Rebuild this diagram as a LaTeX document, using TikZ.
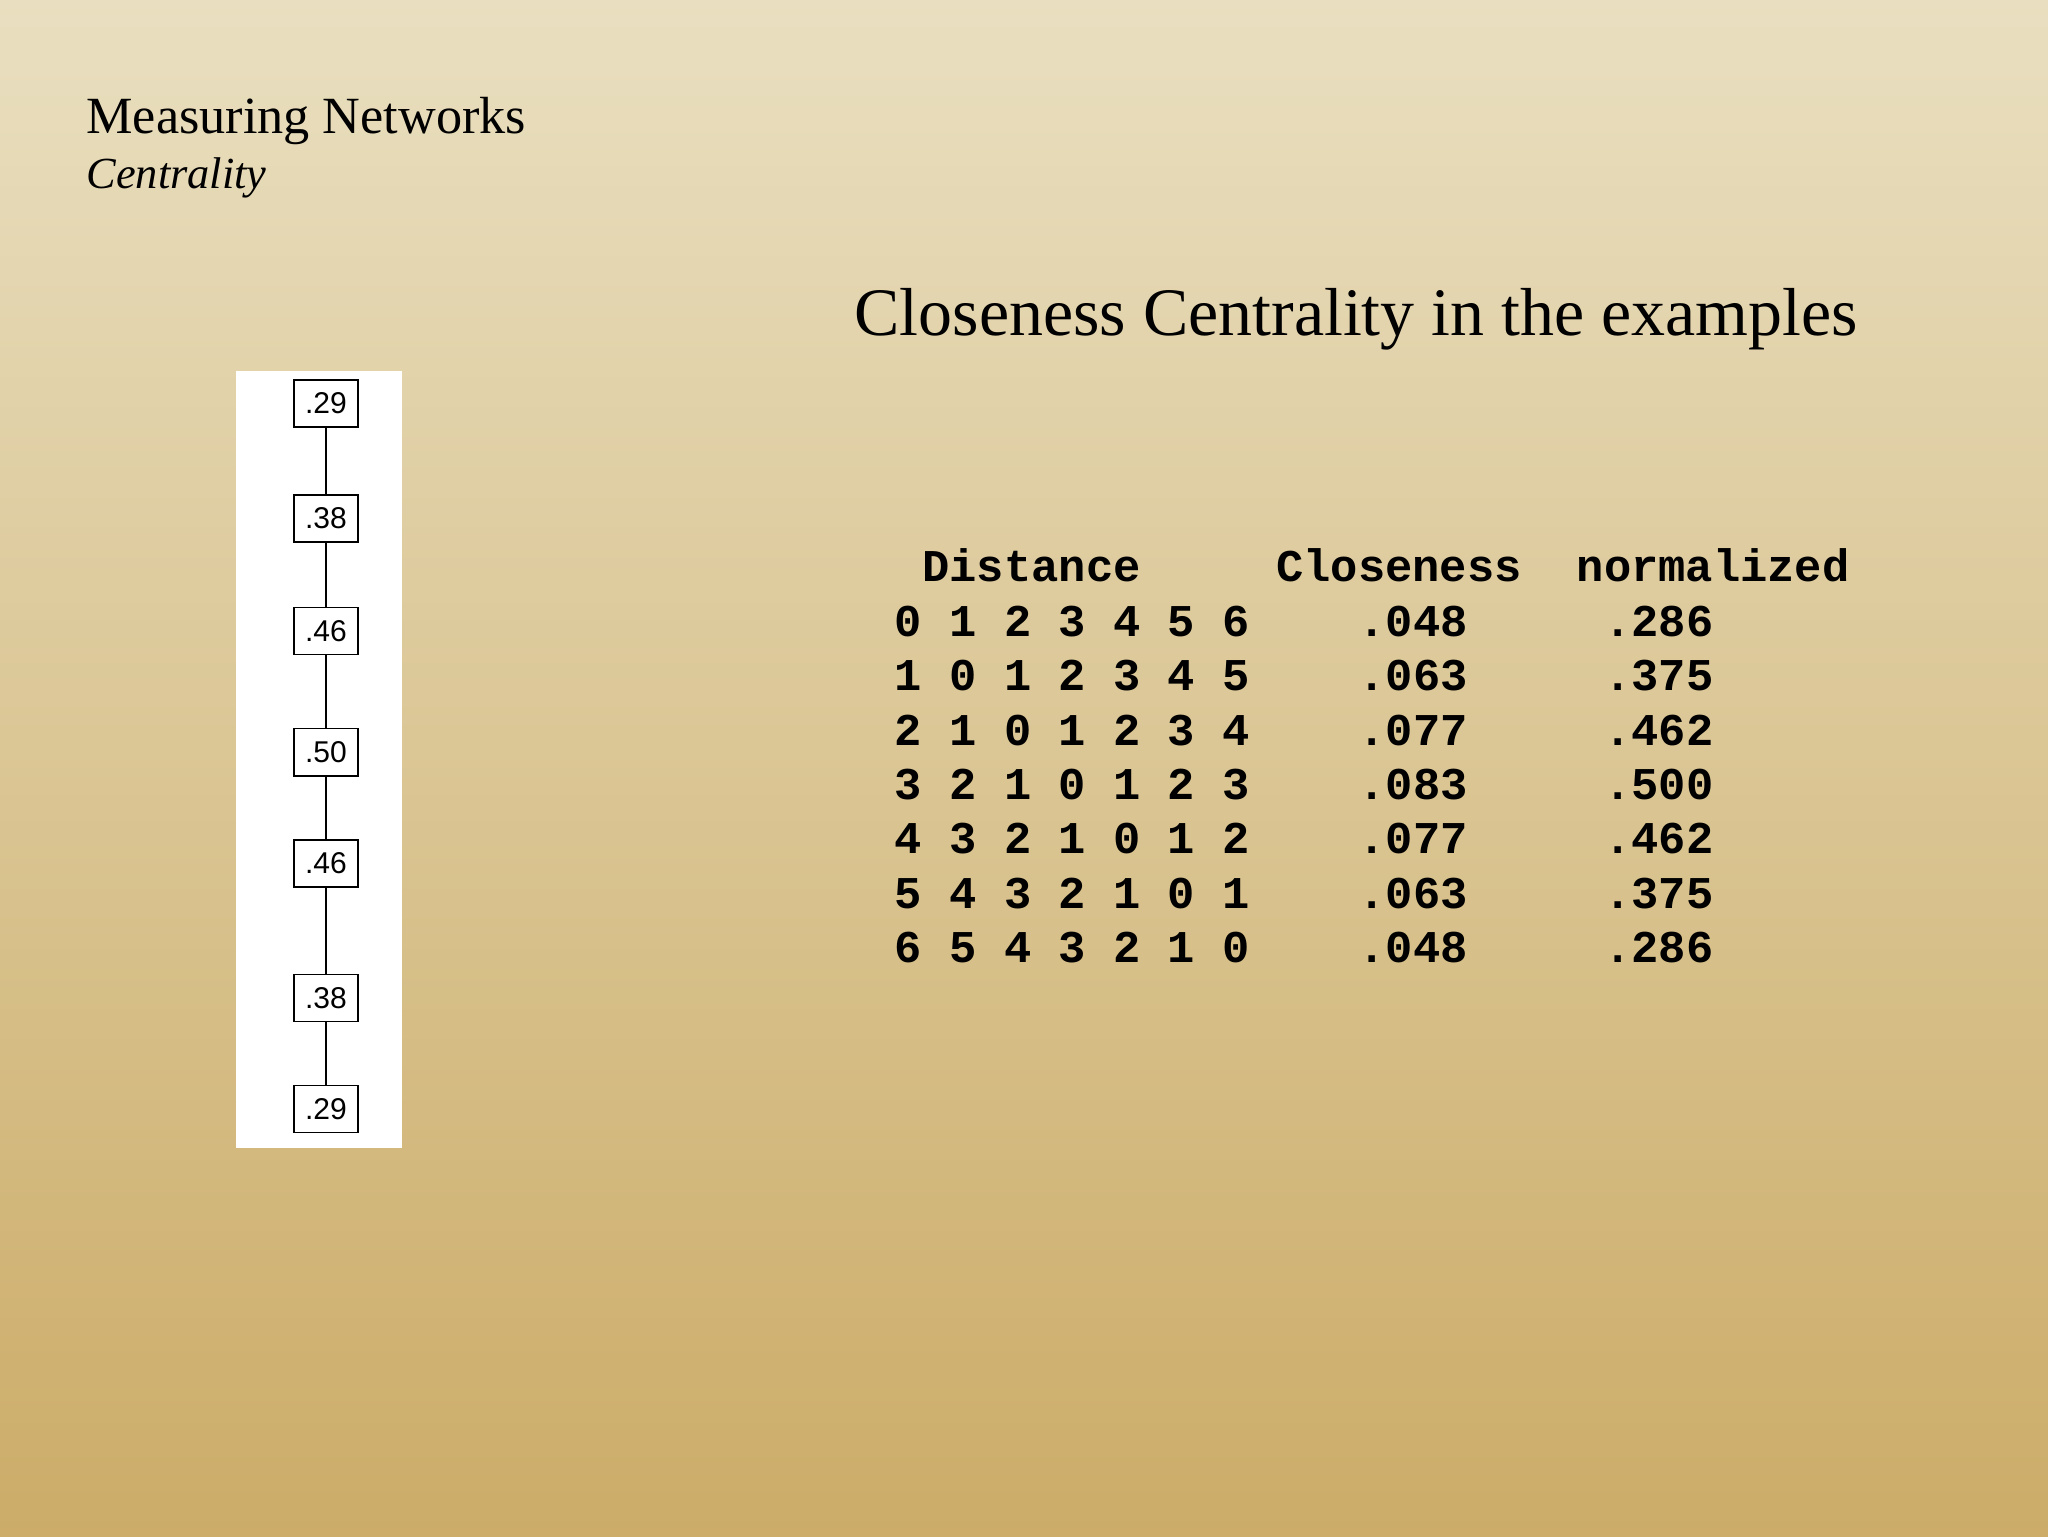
\documentclass[tikz,border=0pt]{standalone}
\usepackage{fontspec}
\setmainfont{Liberation Serif}
\newfontfamily\tabfont{Liberation Mono}
\newfontfamily\boxfont{Liberation Sans}
\begin{document}
\begin{tikzpicture}[x=1pt,y=-1pt,
  vbox/.style={draw,line width=1pt,fill=white,minimum width=49pt,minimum height=36pt,inner sep=0pt,font=\boxfont\fontsize{23}{23}\selectfont},
  tcell/.style={anchor=base west,inner sep=0pt,font=\tabfont\bfseries\fontsize{34.8}{34.8}\selectfont}]
\shade[top color={rgb,255:red,233;green,223;blue,192},bottom color={rgb,255:red,204;green,172;blue,104}] (0,0) rectangle (1568,1176);
\useasboundingbox (0,0) rectangle (1568,1176);
\node[anchor=base west,inner sep=0pt,font=\fontsize{40}{40}\selectfont] (t1) at (66,102) {Measuring Networks};
\node[anchor=base west,inner sep=0pt,font=\itshape\fontsize{34}{34}\selectfont] (t2) at (66,144) {Centrality};
\node[anchor=base west,inner sep=0pt,font=\fontsize{52}{52}\selectfont] (t3) at (654,257) {Closeness Centrality in the examples};
\fill[white] (181,284) rectangle (308,879);
\foreach \i/\y/\v in {1/309/.29,2/397/.38,3/483/.46,4/576/.50,5/661/.46,6/764/.38,7/849/.29}
  \node[vbox] (b\i) at (249.5,\y) {\v};
\foreach \a/\b in {1/2,2/3,3/4,4/5,5/6,6/7} \draw[line width=1pt] (b\a) -- (b\b);
\node[tcell] (h1) at (706,445) {Distance};
\node[tcell] (h2) at (977,445) {Closeness};
\node[tcell] (h3) at (1207,445) {normalized};
\foreach \r/\d/\c/\n in {0/0 1 2 3 4 5 6/.048/.286,1/1 0 1 2 3 4 5/.063/.375,2/2 1 0 1 2 3 4/.077/.462,3/3 2 1 0 1 2 3/.083/.500,4/4 3 2 1 0 1 2/.077/.462,5/5 4 3 2 1 0 1/.063/.375,6/6 5 4 3 2 1 0/.048/.286}{
  \node[tcell] (d\r) at (685,487+41.7*\r) {\d};
  \node[tcell] (c\r) at (1040,487+41.7*\r) {\c};
  \node[tcell] (n\r) at (1228,487+41.7*\r) {\n};
}
\end{tikzpicture}
\end{document}
